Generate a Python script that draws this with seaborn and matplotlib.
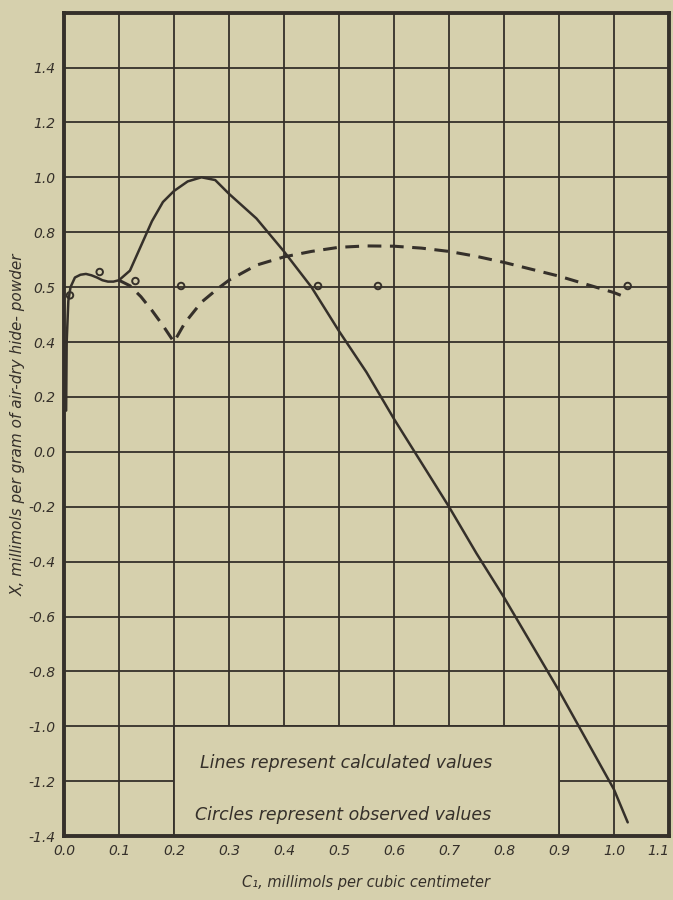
import numpy as np
import pandas as pd
import matplotlib.pyplot as plt
import seaborn as sns
from matplotlib.patches import Rectangle

# calculated values, solid curve (C1 vs X)
solid_c = [0.004, 0.005, 0.008, 0.012, 0.02, 0.03, 0.04, 0.05, 0.06, 0.07, 0.08, 0.09,
           0.10, 0.12, 0.14, 0.16, 0.18, 0.20, 0.225, 0.25, 0.275, 0.30, 0.35, 0.40,
           0.45, 0.50, 0.55, 0.60, 0.65, 0.70, 0.75, 0.80, 0.85, 0.90, 0.95, 1.00, 1.025]
solid_x = [0.15, 0.40, 0.55, 0.60, 0.635, 0.645, 0.648, 0.643, 0.635, 0.625, 0.620, 0.620,
           0.625, 0.66, 0.75, 0.84, 0.91, 0.95, 0.985, 1.00, 0.99, 0.94, 0.85, 0.73,
           0.60, 0.44, 0.29, 0.12, -0.04, -0.20, -0.37, -0.53, -0.70, -0.87, -1.05, -1.23, -1.35]

# calculated values, dashed curve
dash_c = [0.10, 0.12, 0.14, 0.16, 0.18, 0.20, 0.22, 0.25, 0.28, 0.30, 0.35, 0.40, 0.45,
          0.50, 0.55, 0.60, 0.65, 0.70, 0.75, 0.80, 0.85, 0.90, 0.95, 1.00, 1.025]
dash_x = [0.625, 0.605, 0.565, 0.515, 0.46, 0.40, 0.47, 0.545, 0.595, 0.625, 0.68, 0.71, 0.73,
          0.745, 0.75, 0.749, 0.742, 0.73, 0.712, 0.69, 0.665, 0.64, 0.61, 0.58, 0.56]

# observed values (circles)
obs_c = [0.011, 0.065, 0.13, 0.213, 0.462, 0.571, 1.025]
obs_x = [0.57, 0.655, 0.622, 0.604, 0.604, 0.604, 0.604]

x_ticks = [0.0, 0.1, 0.2, 0.3, 0.4, 0.5, 0.6, 0.7, 0.8, 0.9, 1.0, 1.1]
x_labels = ["0.0", "0.1", "0.2", "0.3", "0.4", "0.5", "0.6", "0.7", "0.8", "0.9", "1.0", "1.1"]
y_ticks = [1.4, 1.2, 1.0, 0.8, 0.6, 0.4, 0.2, 0.0, -0.2, -0.4, -0.6, -0.8, -1.0, -1.2, -1.4]
y_labels = ["1.4", "1.2", "1.0", "0.8", "0.5", "0.4", "0.2", "0.0", "-0.2", "-0.4", "-0.6",
            "-0.8", "-1.0", "-1.2", "-1.4"]

paper = "#d6d0ad"
ink = "#35302a"

sns.set_theme(style="whitegrid")
plt.rcParams["font.family"] = ["DejaVu Sans"]

fig = plt.figure(figsize=(6.73, 9.0), dpi=100, facecolor=paper)
ax = fig.add_axes([0.095, 0.071, 0.899, 0.915])
ax.set_facecolor(paper)

solid = pd.DataFrame({"c": solid_c, "x": solid_x})
dashed = pd.DataFrame({"c": dash_c, "x": dash_x})
obs = pd.DataFrame({"c": obs_c, "x": obs_x})

sns.lineplot(data=solid, x="c", y="x", ax=ax, color=ink, lw=1.8, zorder=4)
sns.lineplot(data=dashed, x="c", y="x", ax=ax, color=ink, lw=2.2, zorder=4,
             dashes=False, linestyle=(0, (4.5, 2.8)))
sns.scatterplot(data=obs, x="c", y="x", ax=ax, marker="o", s=22, facecolor="none",
                edgecolor=ink, linewidth=1.4, zorder=5)

ax.set_xlim(0, 1.1)
ax.set_ylim(-1.4, 1.6)
ax.grid(True, color=ink, lw=1.3)
ax.set_axisbelow(True)

# blank panel for the note
ax.add_patch(Rectangle((0.2, -1.4), 0.7, 0.4, facecolor=paper, edgecolor=ink, lw=1.3, zorder=2))
ax.text(0.247, -1.135, "Lines represent calculated values", fontsize=12.5, style="italic",
        color=ink, va="center", zorder=3)
ax.text(0.238, -1.324, "Circles represent observed values", fontsize=12.5, style="italic",
        color=ink, va="center", zorder=3)

ax.set_xticks(x_ticks)
ax.set_xticklabels(x_labels, fontsize=10, style="italic", color=ink)
ax.get_xticklabels()[-1].set_ha("right")
ax.set_yticks(y_ticks)
ax.set_yticklabels(y_labels, fontsize=10, style="italic", color=ink)
ax.tick_params(length=0, pad=6)

for side in ax.spines:
    ax.spines[side].set_visible(True)
    ax.spines[side].set_color(ink)
    ax.spines[side].set_linewidth(2.8)

ax.set_xlabel("C₁, millimols per cubic centimeter", fontsize=10.5, style="italic", color=ink,
              labelpad=12)
ax.set_ylabel("X, millimols per gram of air-dry hide- powder", fontsize=11, style="italic",
              color=ink, labelpad=2)

fig.savefig("out.png", dpi=100, facecolor=paper)
